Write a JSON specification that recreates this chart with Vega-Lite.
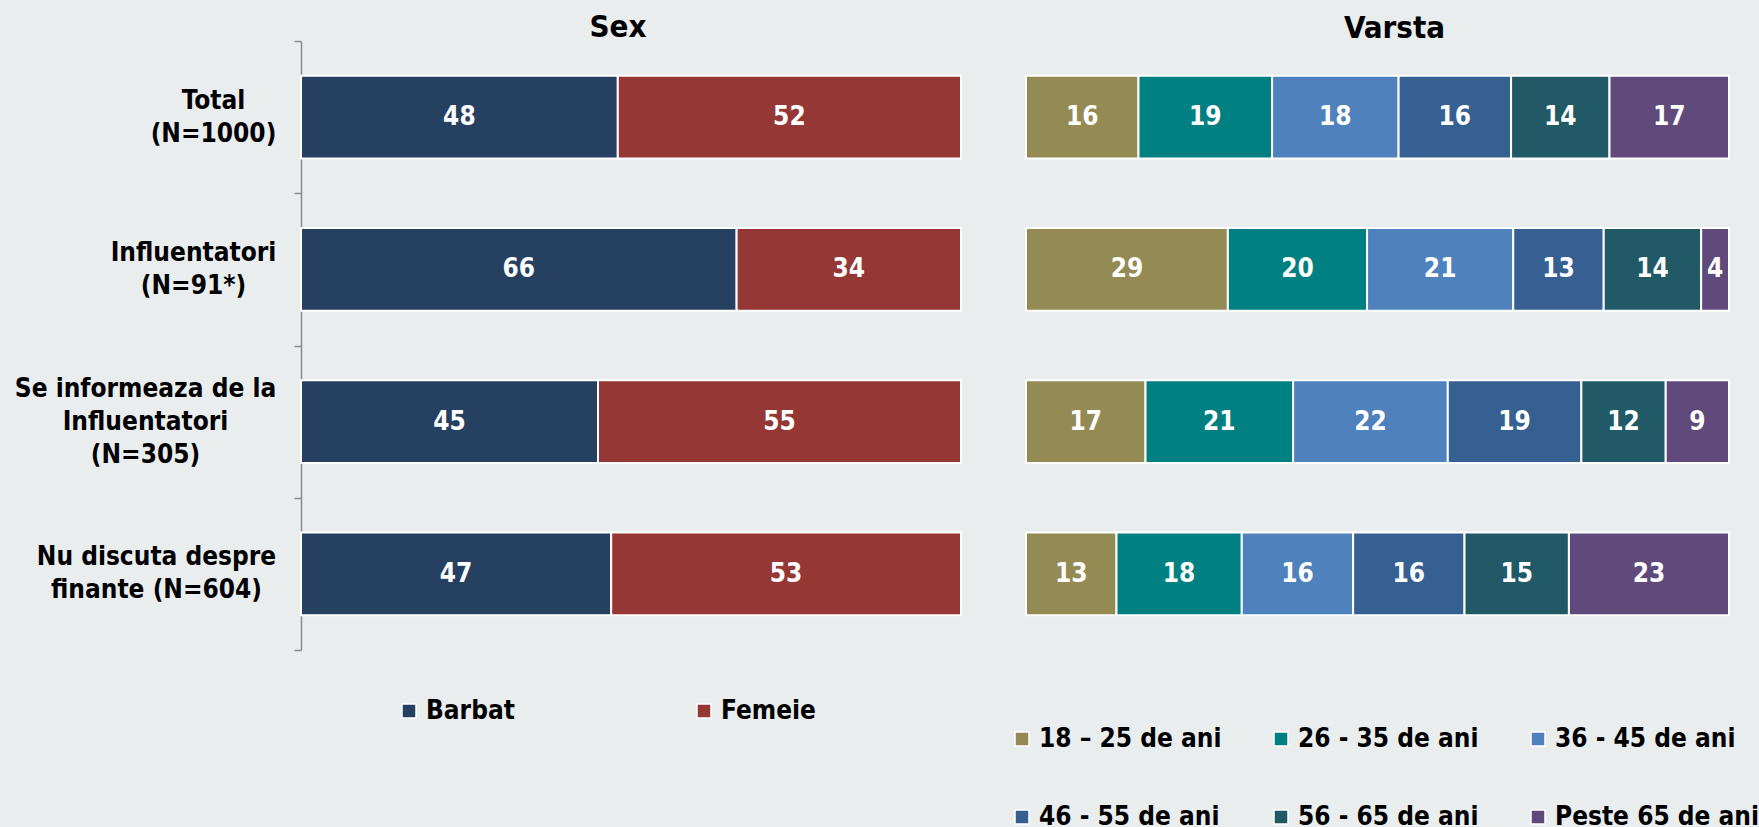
{
  "$schema": "https://vega.github.io/schema/vega-lite/v6.json",
  "background": "#E9EDEE",
  "autosize": {"type": "none"},
  "padding": {"left": 301, "top": 41, "right": 29, "bottom": 177},
  "params": [{"name": "width", "value": 1429}],
  "config": {
    "view": {"stroke": null},
    "font": "DejaVu Sans Condensed, DejaVu Sans",
    "legend": {
      "labelFont": "DejaVu Sans Condensed, DejaVu Sans",
      "labelFontSize": 26,
      "labelFontWeight": "bold",
      "labelColor": "#000000",
      "symbolType": "square",
      "symbolSize": 196,
      "symbolStrokeColor": "white",
      "symbolStrokeWidth": 1.5,
      "symbolOpacity": 1,
      "labelLimit": 400
    },
    "title": {"fontSize": 31, "fontWeight": "bold", "color": "#000000", "font": "DejaVu Sans Condensed, DejaVu Sans", "offset": -4}
  },
  "datasets": {
    "sex": [
      {"group": "Total|(N=1000)", "category": "Barbat", "value": 48},
      {"group": "Total|(N=1000)", "category": "Femeie", "value": 52},
      {"group": "Influentatori|(N=91*)", "category": "Barbat", "value": 66},
      {"group": "Influentatori|(N=91*)", "category": "Femeie", "value": 34},
      {"group": "Se informeaza de la|Influentatori|(N=305)", "category": "Barbat", "value": 45},
      {"group": "Se informeaza de la|Influentatori|(N=305)", "category": "Femeie", "value": 55},
      {"group": "Nu discuta despre|finante (N=604)", "category": "Barbat", "value": 47},
      {"group": "Nu discuta despre|finante (N=604)", "category": "Femeie", "value": 53}
    ],
    "age": [
      {"group": "Total|(N=1000)", "category": "18 – 25 de ani", "value": 16},
      {"group": "Total|(N=1000)", "category": "26 - 35 de ani", "value": 19},
      {"group": "Total|(N=1000)", "category": "36 - 45 de ani", "value": 18},
      {"group": "Total|(N=1000)", "category": "46 - 55 de ani", "value": 16},
      {"group": "Total|(N=1000)", "category": "56 - 65 de ani", "value": 14},
      {"group": "Total|(N=1000)", "category": "Peste 65 de ani", "value": 17},
      {"group": "Influentatori|(N=91*)", "category": "18 – 25 de ani", "value": 29},
      {"group": "Influentatori|(N=91*)", "category": "26 - 35 de ani", "value": 20},
      {"group": "Influentatori|(N=91*)", "category": "36 - 45 de ani", "value": 21},
      {"group": "Influentatori|(N=91*)", "category": "46 - 55 de ani", "value": 13},
      {"group": "Influentatori|(N=91*)", "category": "56 - 65 de ani", "value": 14},
      {"group": "Influentatori|(N=91*)", "category": "Peste 65 de ani", "value": 4},
      {"group": "Se informeaza de la|Influentatori|(N=305)", "category": "18 – 25 de ani", "value": 17},
      {"group": "Se informeaza de la|Influentatori|(N=305)", "category": "26 - 35 de ani", "value": 21},
      {"group": "Se informeaza de la|Influentatori|(N=305)", "category": "36 - 45 de ani", "value": 22},
      {"group": "Se informeaza de la|Influentatori|(N=305)", "category": "46 - 55 de ani", "value": 19},
      {"group": "Se informeaza de la|Influentatori|(N=305)", "category": "56 - 65 de ani", "value": 12},
      {"group": "Se informeaza de la|Influentatori|(N=305)", "category": "Peste 65 de ani", "value": 9},
      {"group": "Nu discuta despre|finante (N=604)", "category": "18 – 25 de ani", "value": 13},
      {"group": "Nu discuta despre|finante (N=604)", "category": "26 - 35 de ani", "value": 18},
      {"group": "Nu discuta despre|finante (N=604)", "category": "36 - 45 de ani", "value": 16},
      {"group": "Nu discuta despre|finante (N=604)", "category": "46 - 55 de ani", "value": 16},
      {"group": "Nu discuta despre|finante (N=604)", "category": "56 - 65 de ani", "value": 15},
      {"group": "Nu discuta despre|finante (N=604)", "category": "Peste 65 de ani", "value": 23}
    ]
  },
  "bounds": "flush",
  "spacing": 65,
  "resolve": {"scale": {"color": "independent"}},
  "hconcat": [
    {
      "width": 660,
      "height": 609,
      "title": {"text": "Sex", "dx": -13},
      "data": {"name": "sex"},
      "transform": [
        {"stack": "value", "groupby": ["group"], "sort": [{"field": "category"}], "as": ["x0", "x1"]},
        {"calculate": "(datum.x0 + datum.x1) / 2", "as": "xm"}
      ],
      "resolve": {"axis": {"y": "independent"}},
      "layer": [
        {
          "mark": {"type": "bar", "stroke": "white", "strokeWidth": 2, "height": {"band": 0.545}},
          "encoding": {
            "y": {
              "field": "group", "type": "nominal",
              "sort": ["Total|(N=1000)", "Influentatori|(N=91*)", "Se informeaza de la|Influentatori|(N=305)", "Nu discuta despre|finante (N=604)"],
              "scale": {"paddingInner": 0, "paddingOuter": 0},
              "axis": {
                "title": null,
                "orient": "left",
                "labels": false,
                "tickBand": "extent",
                "tickSize": 7,
                "tickColor": "#8C8C8C",
                "tickWidth": 1.5,
                "domainColor": "#8C8C8C",
                "domainWidth": 1.5
              }
            },
            "x": {"field": "x0", "type": "quantitative", "scale": {"domain": [0, 100]}, "axis": null},
            "x2": {"field": "x1"},
            "color": {
              "field": "category", "type": "nominal",
              "scale": {"domain": ["Barbat", "Femeie"], "range": ["#264061", "#953735"]},
              "legend": {"title": null, "orient": "none", "legendX": 95, "legendY": 657, "direction": "horizontal", "columns": 2, "columnPadding": 176}
            }
          }
        },
        {
          "mark": {"type": "text", "color": "white", "fontSize": 26, "fontWeight": "bold"},
          "encoding": {
            "y": {
              "field": "group", "type": "nominal",
              "sort": ["Total|(N=1000)", "Influentatori|(N=91*)", "Se informeaza de la|Influentatori|(N=305)", "Nu discuta despre|finante (N=604)"],
              "axis": {
                "title": null,
                "orient": "left",
                "labelExpr": "split(datum.value, '|')",
                "labelFont": "DejaVu Sans Condensed, DejaVu Sans",
                "labelFontSize": 26,
                "labelFontWeight": "bold",
                "labelColor": "#000000",
                "labelLineHeight": 33,
                "labelAlign": "center",
                "labelPadding": {
                  "condition": [
                    {"test": "indexof(datum.value, 'Total') >= 0", "value": 88},
                    {"test": "indexof(datum.value, 'Se informeaza') >= 0", "value": 156},
                    {"test": "indexof(datum.value, 'Nu discuta') >= 0", "value": 145}
                  ],
                  "value": 108
                },
                "labelOffset": {
                  "condition": {"test": "indexof(datum.value, 'Se informeaza') >= 0", "value": -33},
                  "value": -16.5
                },
                "labelLimit": 400,
                "ticks": false,
                "domain": false
              }
            },
            "x": {"field": "xm", "type": "quantitative"},
            "text": {"field": "value", "type": "quantitative"}
          }
        }
      ]
    },
    {
      "width": 703,
      "height": 609,
      "title": {"text": "Varsta", "dx": 17},
      "data": {"name": "age"},
      "transform": [
        {"stack": "value", "groupby": ["group"], "sort": [{"field": "category"}], "offset": "normalize", "as": ["x0", "x1"]},
        {"calculate": "(datum.x0 + datum.x1) / 2", "as": "xm"}
      ],
      "encoding": {
        "y": {
          "field": "group", "type": "nominal",
          "sort": ["Total|(N=1000)", "Influentatori|(N=91*)", "Se informeaza de la|Influentatori|(N=305)", "Nu discuta despre|finante (N=604)"],
          "scale": {"paddingInner": 0, "paddingOuter": 0},
          "axis": null
        }
      },
      "layer": [
        {
          "mark": {"type": "bar", "stroke": "white", "strokeWidth": 2, "height": {"band": 0.545}},
          "encoding": {
            "x": {"field": "x0", "type": "quantitative", "scale": {"domain": [0, 1]}, "axis": null},
            "x2": {"field": "x1"},
            "color": {
              "field": "category", "type": "nominal",
              "scale": {
                "domain": ["18 – 25 de ani", "26 - 35 de ani", "36 - 45 de ani", "46 - 55 de ani", "56 - 65 de ani", "Peste 65 de ani"],
                "range": ["#948A54", "#008080", "#4F81BD", "#376092", "#215967", "#604A7B"]
              },
              "legend": {"title": null, "orient": "none", "legendX": -17, "legendY": 685, "direction": "horizontal", "columns": 3, "columnPadding": 46, "rowPadding": 52}
            }
          }
        },
        {
          "mark": {"type": "text", "color": "white", "fontSize": 26, "fontWeight": "bold"},
          "encoding": {
            "x": {"field": "xm", "type": "quantitative"},
            "text": {"field": "value", "type": "quantitative"}
          }
        }
      ]
    }
  ]
}
